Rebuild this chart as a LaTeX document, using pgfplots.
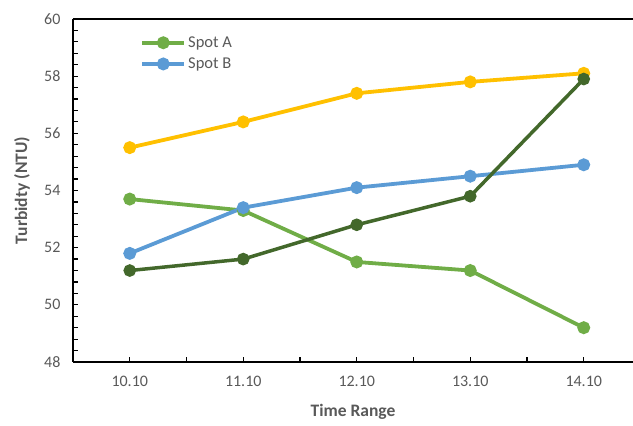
\documentclass[border=0pt]{standalone}
\usepackage{pgfplots}
\pgfplotsset{compat=1.18}
\usepackage{fontspec}
\setmainfont{Carlito}
\definecolor{cyellow}{HTML}{FFC000}
\definecolor{clgreen}{HTML}{70AD47}
\definecolor{cblue}{HTML}{5B9BD5}
\definecolor{cdgreen}{HTML}{43682B}
\definecolor{tgray}{HTML}{595959}
\begin{document}
\begin{tikzpicture}[x=1pt,y=1pt]
\begin{axis}[name=ax, at={(0,0)}, anchor=south west,
  scale only axis, width=560pt, height=343pt,
  xmin=-0.5, xmax=4.434, ymin=48, ymax=60,
  axis lines=left, axis line style={-, line width=1.8pt, black},
  xtick={0,1,2,3,4}, xticklabels={10.10,11.10,12.10,13.10,14.10},
  minor xtick={0.5,1.5,2.5,3.5},
  ytick={48,50,52,54,56,58,60}, minor y tick num=4,
  tick align=inside, major tick length=5pt, minor tick length=5pt,
  every tick/.style={black, line width=1.2pt},
  minor tick style={black, line width=1.2pt},
  ticklabel style={font=\fontsize{16}{18}\selectfont, text=tgray},
  /pgf/number format/assume math mode=true,
  yticklabel style={xshift=-9pt},
  xticklabel style={yshift=-11pt},
  xlabel={Time Range}, ylabel={Turbidty (NTU)},
  label style={font=\bfseries\fontsize{17.5}{20}\selectfont, text=tgray},
  xlabel style={at={(axis description cs:0.5,-0.145)}, anchor=center},
  ylabel style={at={(axis description cs:-0.091,0.5)}, anchor=center, rotate=0},
  legend style={at={(rel axis cs:0.12,0.955)}, anchor=north west, draw=none, fill=none,
    inner sep=0pt, font=\fontsize{16.5}{18}\selectfont, text=tgray,
    row sep=5pt, cells={anchor=west, inner xsep=1pt}},
  legend image code/.code={\draw[mark repeat=2,mark phase=2] plot coordinates {(0pt,0pt)(21pt,0pt)(42pt,0pt)};},
  every axis plot/.append style={line width=3.8pt, mark=*, mark size=4.5pt, mark options={solid}},
]
\addplot[color=cyellow, forget plot] coordinates {(0,55.5) (1,56.4) (2,57.4) (3,57.8) (4,58.1)};
\addplot[color=clgreen] coordinates {(0,53.7) (1,53.3) (2,51.5) (3,51.2) (4,49.2)};
\addlegendentry{Spot A}
\addplot[color=cblue] coordinates {(0,51.8) (1,53.4) (2,54.1) (3,54.5) (4,54.9)};
\addlegendentry{Spot B}
\addplot[color=cdgreen, line width=3.5pt, forget plot] coordinates {(0,51.2) (1,51.6) (2,52.8) (3,53.8) (4,57.9)};
\end{axis}
\draw[line width=1.8pt] (ax.north west) -- ([xshift=20pt]ax.north east);
\pgfresetboundingbox
\path (-73,-64) rectangle (560,362);
\end{tikzpicture}
\end{document}
